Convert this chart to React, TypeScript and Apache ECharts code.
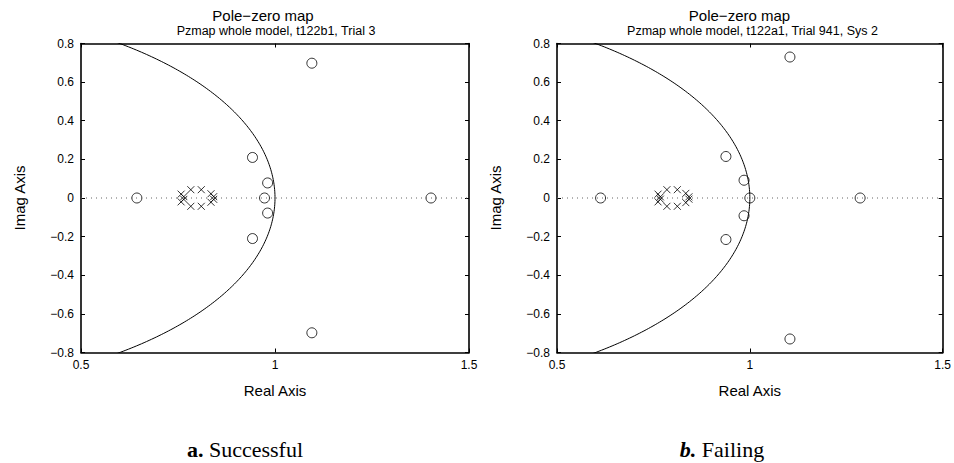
import React, { useEffect, useRef } from "react";
import * as echarts from "echarts";

// ---- data ----
const xTicks = [0.5, 1, 1.5];
const yTicks = [-0.8, -0.6, -0.4, -0.2, 0, 0.2, 0.4, 0.6, 0.8];

const leftTitle = "Pole\u2212zero map";
const leftSubtitle = "Pzmap whole model, t122b1, Trial 3";
const rightTitle = "Pole\u2212zero map";
const rightSubtitle = "Pzmap whole model, t122a1, Trial 941, Sys 2";

const leftZeros: [number, number][] = [
  [0.644, 0], [0.942, 0.21], [0.942, -0.21], [0.981, 0.078], [0.981, -0.078],
  [0.973, 0], [1.095, 0.698], [1.095, -0.698], [1.402, 0],
];
const leftPoles: [number, number][] = [
  [0.758, 0.02], [0.758, -0.02], [0.765, 0.007], [0.765, -0.007],
  [0.783, 0.043], [0.783, -0.043], [0.81, 0.043], [0.81, -0.043],
  [0.835, 0.022], [0.835, -0.022], [0.842, 0.007], [0.842, -0.007],
];
const rightZeros: [number, number][] = [
  [0.613, 0], [0.938, 0.215], [0.938, -0.215], [0.985, 0.092], [0.985, -0.092],
  [1.0, 0], [1.104, 0.73], [1.104, -0.73], [1.286, 0],
];
const rightPoles: [number, number][] = [
  [0.762, 0.02], [0.762, -0.02], [0.768, 0.006], [0.768, -0.006],
  [0.785, 0.043], [0.785, -0.043], [0.812, 0.043], [0.812, -0.043],
  [0.834, 0.024], [0.834, -0.024], [0.842, 0.006], [0.842, -0.006],
];

// unit circle |z| = 1 (reference curve of a pole-zero map), by angle in degrees
const circleAnglesDeg: number[] = [];
for (let a = -56; a <= 56; a += 0.5) circleAnglesDeg.push(a);
const unitCircle = circleAnglesDeg.map((d) => [
  Math.cos((d * Math.PI) / 180),
  Math.sin((d * Math.PI) / 180),
]);
const zeroLine = [
  [xTicks[0], 0],
  [xTicks[xTicks.length - 1], 0],
];

const captionA = "Successful";
const captionB = "Failing";

const FONT = "'Liberation Sans', Arial, Helvetica, sans-serif";
const SERIF = "'Liberation Serif', 'Times New Roman', serif";

const fmt = (v: number) => {
  if (Math.abs(v) < 1e-9) return "0";
  const s = String(+v.toFixed(2));
  return s.replace("-", "\u2212");
};

export default function App() {
  const ref = useRef<HTMLDivElement>(null);
  useEffect(() => {
    if (!ref.current) return;
    const chart = echarts.init(ref.current, null, { renderer: "svg" });

    const grids = [
      { left: 81, top: 43.5, width: 388, height: 309 },
      { left: 557, top: 43.5, width: 388, height: 309 },
    ];

    const axisLine = { show: true, onZero: false, lineStyle: { color: "#000", width: 1.6 } };
    const axisTick = { show: true, inside: true, length: 4, lineStyle: { color: "#000", width: 1 } };

    const xAxes: any[] = [];
    const yAxes: any[] = [];
    [0, 1].forEach((g) => {
      xAxes.push({
        type: "value", gridIndex: g, position: "bottom",
        min: 0.5, max: 1.5, interval: 0.5,
        axisLine, axisTick, splitLine: { show: false },
        axisLabel: { color: "#000", fontFamily: FONT, fontSize: 12, margin: 6, formatter: fmt },
        name: "Real Axis", nameLocation: "middle", nameGap: 30,
        nameTextStyle: { color: "#000", fontFamily: FONT, fontSize: 15 },
      });
      xAxes.push({
        type: "value", gridIndex: g, position: "top",
        min: 0.5, max: 1.5, interval: 0.5,
        axisLine, axisTick, splitLine: { show: false }, axisLabel: { show: false },
      });
      yAxes.push({
        type: "value", gridIndex: g, position: "left",
        min: -0.8, max: 0.8, interval: 0.2,
        axisLine, axisTick, splitLine: { show: false },
        axisLabel: { color: "#000", fontFamily: FONT, fontSize: 12, margin: 7, formatter: fmt },
        name: "Imag Axis", nameLocation: "middle", nameGap: 54,
        nameTextStyle: { color: "#000", fontFamily: FONT, fontSize: 15 },
      });
      yAxes.push({
        type: "value", gridIndex: g, position: "right",
        min: -0.8, max: 0.8, interval: 0.2,
        axisLine, axisTick, splitLine: { show: false }, axisLabel: { show: false },
      });
    });

    const xMark = "path://M0,0L10,10M10,0L0,10";
    const series: any[] = [];
    const sets = [
      { zeros: leftZeros, poles: leftPoles },
      { zeros: rightZeros, poles: rightPoles },
    ];
    sets.forEach((s, g) => {
      const xi = g * 2;
      const yi = g * 2;
      series.push({
        type: "line", xAxisIndex: xi, yAxisIndex: yi, data: zeroLine,
        symbol: "none", silent: true,
        lineStyle: { color: "#666", width: 1, type: [1, 4] },
      });
      series.push({
        type: "line", xAxisIndex: xi, yAxisIndex: yi, data: unitCircle,
        symbol: "none", clip: true, silent: true,
        lineStyle: { color: "#000", width: 1 },
      });
      series.push({
        type: "scatter", xAxisIndex: xi, yAxisIndex: yi, data: s.zeros,
        symbol: "circle", symbolSize: 10,
        itemStyle: { color: "rgba(0,0,0,0)", borderColor: "#000", borderWidth: 1 },
      });
      series.push({
        type: "scatter", xAxisIndex: xi, yAxisIndex: yi, data: s.poles,
        symbol: xMark, symbolSize: 7,
        itemStyle: { color: "rgba(0,0,0,0)", borderColor: "#000", borderWidth: 1 },
      });
    });

    const titleText = (x: number, title: string, sub: string) => [
      {
        type: "text", x, y: 15,
        style: { text: title, fill: "#000", font: `15px ${FONT}`, textAlign: "center", textVerticalAlign: "middle" },
      },
      {
        type: "text", x: x + 13, y: 30.5,
        style: { text: sub, fill: "#000", font: `12.5px ${FONT}`, textAlign: "center", textVerticalAlign: "middle" },
      },
    ];

    chart.setOption({
      animation: false,
      backgroundColor: "#fff",
      grid: grids,
      xAxis: xAxes,
      yAxis: yAxes,
      series,
      graphic: [
        ...titleText(263, leftTitle, leftSubtitle),
        ...titleText(739.5, rightTitle, rightSubtitle),
        {
          type: "text", x: 245, y: 449,
          style: {
            text: "{b|a.} " + captionA,
            fill: "#000",
            font: `22px ${SERIF}`,
            textAlign: "center", textVerticalAlign: "middle",
            rich: { b: { fontWeight: "bold", fontSize: 22, fontFamily: SERIF, fill: "#000" } },
          },
        },
        {
          type: "text", x: 722, y: 449,
          style: {
            text: "{b|b.} " + captionB,
            fill: "#000",
            font: `22px ${SERIF}`,
            textAlign: "center", textVerticalAlign: "middle",
            rich: { b: { fontWeight: "bold", fontStyle: "italic", fontSize: 22, fontFamily: SERIF, fill: "#000" } },
          },
        },
      ],
    });
    return () => chart.dispose();
  }, []);
  return (
    <div
      ref={ref}
      style={{ position: "absolute", left: 0, top: 0, width: 954, height: 463 }}
    />
  );
}
